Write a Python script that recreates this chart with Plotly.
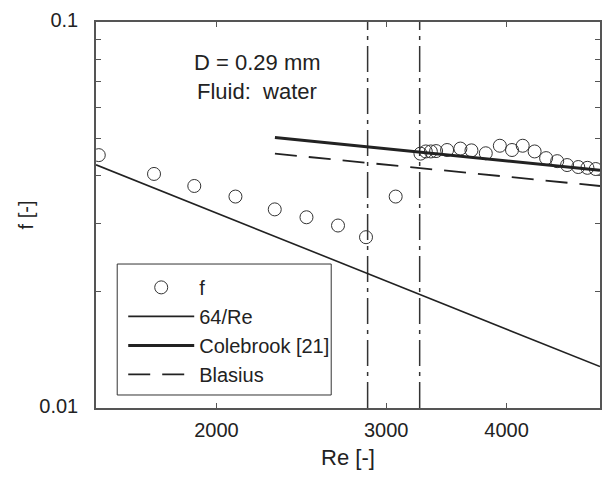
import plotly.graph_objects as go

# Measured data points (Re, f)
re_meas = [1510, 1723, 1897, 2093, 2299, 2480, 2674, 2859, 3069,
           3256, 3298, 3338, 3380, 3470, 3582, 3678, 3806, 3936, 4052,
           4157, 4277, 4396, 4514, 4622, 4747, 4852, 4949]
f_meas = [0.0452, 0.0404, 0.0376, 0.0353, 0.0327, 0.0312, 0.0297, 0.0277, 0.0353,
          0.0456, 0.0462, 0.0462, 0.0463, 0.0466, 0.0470, 0.0465, 0.0457, 0.0478, 0.0466,
          0.0478, 0.0462, 0.0444, 0.0436, 0.0426, 0.0421, 0.0419, 0.0416]

# Correlation lines (end points)
re_lam = [1500, 5000]
f_lam = [0.04267, 0.0128]
re_cole = [2300, 5000]
f_cole = [0.0502, 0.0413]
re_blas = [2300, 5000]
f_blas = [0.0456, 0.0376]

# Transition markers
re_trans = [2870, 3250]
y_range = [0.01, 0.1]

x_tickvals = [2000, 3000, 4000]
x_ticktext = ["2000", "3000", "4000"]
y_tickvals = [0.01, 0.02, 0.03, 0.04, 0.05, 0.06, 0.07, 0.08, 0.09, 0.1]
y_ticktext = ["0.01", "", "", "", "", "", "", "", "", "0.1"]

FONT = "Liberation Sans, Arial, sans-serif"
INK = "#222222"

fig = go.Figure()

for i, xv in enumerate(re_trans):
    fig.add_trace(go.Scatter(x=[xv, xv], y=y_range, mode="lines",
                             line=dict(color="#333333", width=1.5, dash="26px,6px,4px,6px"),
                             showlegend=False, hoverinfo="skip"))

fig.add_trace(go.Scatter(x=re_meas, y=f_meas, mode="markers", name="f",
                         marker=dict(symbol="circle-open", size=13, color="#333333",
                                     line=dict(width=1, color="#333333"))))
fig.add_trace(go.Scatter(x=re_lam, y=f_lam, mode="lines", name="64/Re",
                         line=dict(color=INK, width=1.6)))
fig.add_trace(go.Scatter(x=re_cole, y=f_cole, mode="lines", name="Colebrook [21]",
                         line=dict(color=INK, width=3)))
fig.add_trace(go.Scatter(x=re_blas, y=f_blas, mode="lines", name="Blasius",
                         line=dict(color=INK, width=1.8, dash="22px,12px")))

axis_common = dict(showgrid=False, zeroline=False, showline=True, linecolor="#555555",
                   linewidth=1.5, mirror="ticks", ticks="inside", ticklen=5,
                   tickcolor="#555555", tickwidth=1,
                   tickfont=dict(family=FONT, size=20, color=INK))

fig.update_xaxes(type="log", range=[3.176091, 3.698970], tickvals=x_tickvals,
                 ticktext=x_ticktext, ticklabelstandoff=3,
                 title=dict(text="Re [-]", font=dict(family=FONT, size=22, color=INK), standoff=10),
                 **axis_common)
fig.update_yaxes(type="log", range=[-2, -1], tickvals=y_tickvals, ticktext=y_ticktext,
                 ticklabelstandoff=12, ticklabelshift=-2,
                 title=dict(text="f [-]", font=dict(family=FONT, size=20, color=INK), standoff=0),
                 **axis_common)

fig.add_annotation(x=0.3196, y=0.8938, xref="paper", yref="paper", text="D = 0.29 mm",
                   xanchor="center", yanchor="middle",
                   showarrow=False, font=dict(family=FONT, size=22, color=INK))
fig.add_annotation(x=0.3196, y=0.8187, xref="paper", yref="paper", text="Fluid:\u00a0 water",
                   xanchor="center", yanchor="middle",
                   showarrow=False, font=dict(family=FONT, size=22, color=INK))

# legend frame
fig.add_shape(type="rect", xref="paper", yref="paper", x0=0.0421, x1=0.4667, y0=0.0337, y1=0.373,
              line=dict(color="#333333", width=1), fillcolor="white", layer="below")

fig.update_layout(
    width=605, height=482,
    margin=dict(l=96, r=3, t=22, b=74),
    paper_bgcolor="white", plot_bgcolor="white",
    font=dict(family=FONT, size=20, color=INK),
    legend=dict(x=0.054, y=0.363, xanchor="left", yanchor="top",
                borderwidth=0, bgcolor="rgba(0,0,0,0)",
                itemwidth=66, font=dict(family=FONT, size=20, color=INK),
                tracegroupgap=0),
)

fig.write_html("out.html")
